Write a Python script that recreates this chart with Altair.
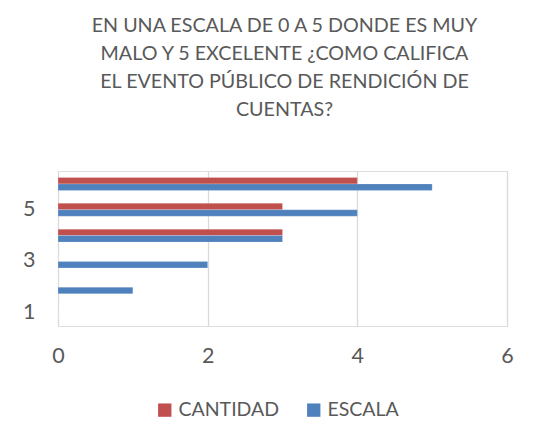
import altair as alt
import pandas as pd

categories = ["1", "2", "3", "4", "5", "6"]
escala = [0, 1, 2, 3, 4, 5]
cantidad = [0, 0, 0, 3, 3, 4]
series_names = ["CANTIDAD", "ESCALA"]
title_lines = [
    "EN UNA ESCALA DE 0 A 5 DONDE ES MUY",
    "MALO Y  5 EXCELENTE ¿COMO CALIFICA",
    "EL EVENTO PÚBLICO DE RENDICIÓN DE",
    "CUENTAS?",
]

rows = []
for c, e, q in zip(categories, escala, cantidad):
    rows.append({"cat": c, "serie": "CANTIDAD", "valor": q})
    rows.append({"cat": c, "serie": "ESCALA", "valor": e})
df = pd.DataFrame(rows)

FONT = "Lato"
GREY = "#595959"

chart = (
    alt.Chart(df)
    .mark_bar(stroke="#ffffff", strokeWidth=0.4, strokeOpacity=0.5)
    .encode(
        x=alt.X(
            "valor:Q",
            scale=alt.Scale(domain=[0, 6], nice=False),
            axis=alt.Axis(
                values=[0, 2, 4, 6],
                title=None,
                domain=False,
                ticks=False,
                grid=True,
                gridColor="#d9d9d9",
                gridWidth=1.3,
                labelFlush=False,
                labelFont=FONT,
                labelFontSize=21.5,
                labelColor=GREY,
                labelPadding=19,
            ),
        ),
        y=alt.Y(
            "cat:N",
            sort=list(reversed(categories)),
            scale=alt.Scale(paddingInner=0.5, paddingOuter=0.25),
            axis=alt.Axis(
                values=["1", "3", "5"],
                title=None,
                domain=False,
                ticks=False,
                grid=False,
                labelFont=FONT,
                labelFontSize=21.5,
                labelColor=GREY,
                labelPadding=23,
            ),
        ),
        yOffset=alt.YOffset("serie:N", sort=series_names),
        color=alt.Color(
            "serie:N",
            scale=alt.Scale(domain=series_names, range=["#C0504D", "#4F81BD"]),
            legend=alt.Legend(
                title=None,
                orient="none",
                direction="horizontal",
                legendX=97,
                legendY=229,
                padding=0,
                symbolType="square",
                symbolSize=178,
                symbolStrokeWidth=0,
                labelFont=FONT,
                labelFontSize=19.5,
                labelColor=GREY,
                labelOffset=4,
                columnPadding=24,
            ),
        ),
    )
    .properties(
        width=449,
        height=155,
        padding={"left": 50, "top": 163, "right": 22, "bottom": 114},
        autosize=alt.AutoSizeParams(type="none"),
        title=alt.TitleParams(
            text=title_lines,
            font=FONT,
            fontSize=19.7,
            fontWeight="normal",
            color=GREY,
            lineHeight=28,
            anchor="middle",
            frame="group",
            dx=2,
            offset=51,
        ),
    )
    .configure_view(stroke=None)
    .configure(background="white")
)

chart.save("out.html", embed_options={"renderer": "svg", "actions": False})
